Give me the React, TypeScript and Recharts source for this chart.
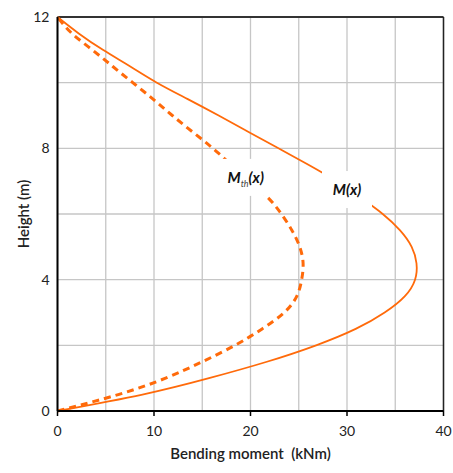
import {
  LineChart,
  Line,
  XAxis,
  YAxis,
  CartesianGrid,
  ReferenceLine,
  ReferenceDot,
} from "recharts";

// heights along the column (m)
const heights = [0, 0.5, 1, 1.5, 2, 2.5, 3, 3.5, 4, 4.5, 5, 5.5, 6, 6.5, 7, 7.5, 8, 8.5, 9, 9.5, 10, 10.5, 11, 11.5, 12];

// M(x) bending moment (kNm)
const momentTotal = [0, 8.8, 15.7, 21.7, 26.8, 30.9, 33.9, 36.0, 37.05, 37.2, 36.7, 35.5, 33.7, 31.4, 28.9, 26.0, 22.9, 19.8, 16.7, 13.5, 10.3, 7.5, 4.7, 2.2, 0];

// M_th(x) bending moment (kNm)
const momentTh = [0, 6.3, 11.2, 15.0, 18.4, 21.2, 23.5, 24.8, 25.3, 25.45, 25.1, 24.3, 23.2, 21.8, 19.9, 18.0, 16.1, 14.0, 11.9, 9.9, 7.8, 5.7, 3.6, 1.5, 0];

const xTicks = [0, 10, 20, 30, 40];
const yTicks = [0, 4, 8, 12];
const xGrid = [0, 5, 10, 15, 20, 25, 30, 35, 40];
const yGrid = [0, 2, 4, 6, 8, 10, 12];

const totalData = heights.map((h, i) => ({ h, m: momentTotal[i] }));
const thData = heights.map((h, i) => ({ h, m: momentTh[i] }));

const ORANGE = "#ff6a0a";
const FONT = "Lato, 'Open Sans', sans-serif";

function CurveTag(props: any) {
  const { cx, cy, sub } = props;
  return (
    <g>
      <rect x={cx - 25} y={cy - 19} width={50} height={37} fill="#fff" />
      <text
        x={cx}
        y={cy + 5}
        textAnchor="middle"
        fontFamily={FONT}
        fontStyle="italic"
        fontWeight={700}
        fontSize={15}
        fill="#111"
      >
        M
        {sub ? (
          <>
            <tspan fontSize={9} dy={4} fontWeight={400} fill="#444">
              {sub}
            </tspan>
            <tspan dy={-4}>(x)</tspan>
          </>
        ) : (
          "(x)"
        )}
      </text>
    </g>
  );
}

export default function App() {
  return (
    <div style={{ position: "absolute", left: 0, top: 0, background: "#fff" }}>
      <LineChart
        width={453}
        height={473}
        layout="vertical"
        margin={{ top: 17, right: 9.5, bottom: 14, left: 0 }}
      >
        <CartesianGrid
          stroke="#c6c6c6"
          strokeWidth={1.3}
          verticalValues={xGrid}
          horizontalValues={yGrid}
        />
        <XAxis
          type="number"
          dataKey="m"
          domain={[0, 40]}
          ticks={xTicks}
          height={48}
          axisLine={{ stroke: "#000", strokeWidth: 2 }}
          tickLine={{ stroke: "#000", strokeWidth: 1.5 }}
          tickSize={5}
          tickMargin={10}
          tick={{ fill: "#222", fontSize: 14, fontFamily: FONT }}
          label={{
            value: "Bending moment\u00a0\u00a0(kNm)",
            position: "insideBottom",
            offset: 0,
            style: { fill: "#222", fontSize: 15, fontWeight: 600, fontFamily: FONT },
          }}
        />
        <YAxis
          type="number"
          dataKey="h"
          domain={[0, 12]}
          ticks={yTicks}
          reversed
          width={57.5}
          axisLine={{ stroke: "#000", strokeWidth: 2 }}
          tickLine={false}
          tickSize={0}
          tickMargin={8}
          tick={{ fill: "#222", fontSize: 14, fontFamily: FONT }}
          label={{
            value: "Height (m)",
            angle: -90,
            position: "insideLeft",
            offset: 23.5,
            style: { fill: "#222", fontSize: 15, fontWeight: 600, fontFamily: FONT, textAnchor: "middle" },
          }}
        />
        <ReferenceLine y={12} stroke="#333" strokeWidth={2} />
        <ReferenceLine x={40} stroke="#222" strokeWidth={1.5} />
        <Line
          data={thData}
          dataKey="m"
          type="natural"
          stroke={ORANGE}
          strokeWidth={3}
          strokeDasharray="7 5"
          dot={false}
          isAnimationActive={false}
        />
        <Line
          data={totalData}
          dataKey="m"
          type="natural"
          stroke={ORANGE}
          strokeWidth={1.8}
          dot={false}
          isAnimationActive={false}
        />
        <ReferenceDot x={19.5} y={7.1} shape={(p: any) => <CurveTag {...p} sub="th" />} />
        <ReferenceDot x={30.0} y={6.73} shape={(p: any) => <CurveTag {...p} />} />
      </LineChart>
    </div>
  );
}
